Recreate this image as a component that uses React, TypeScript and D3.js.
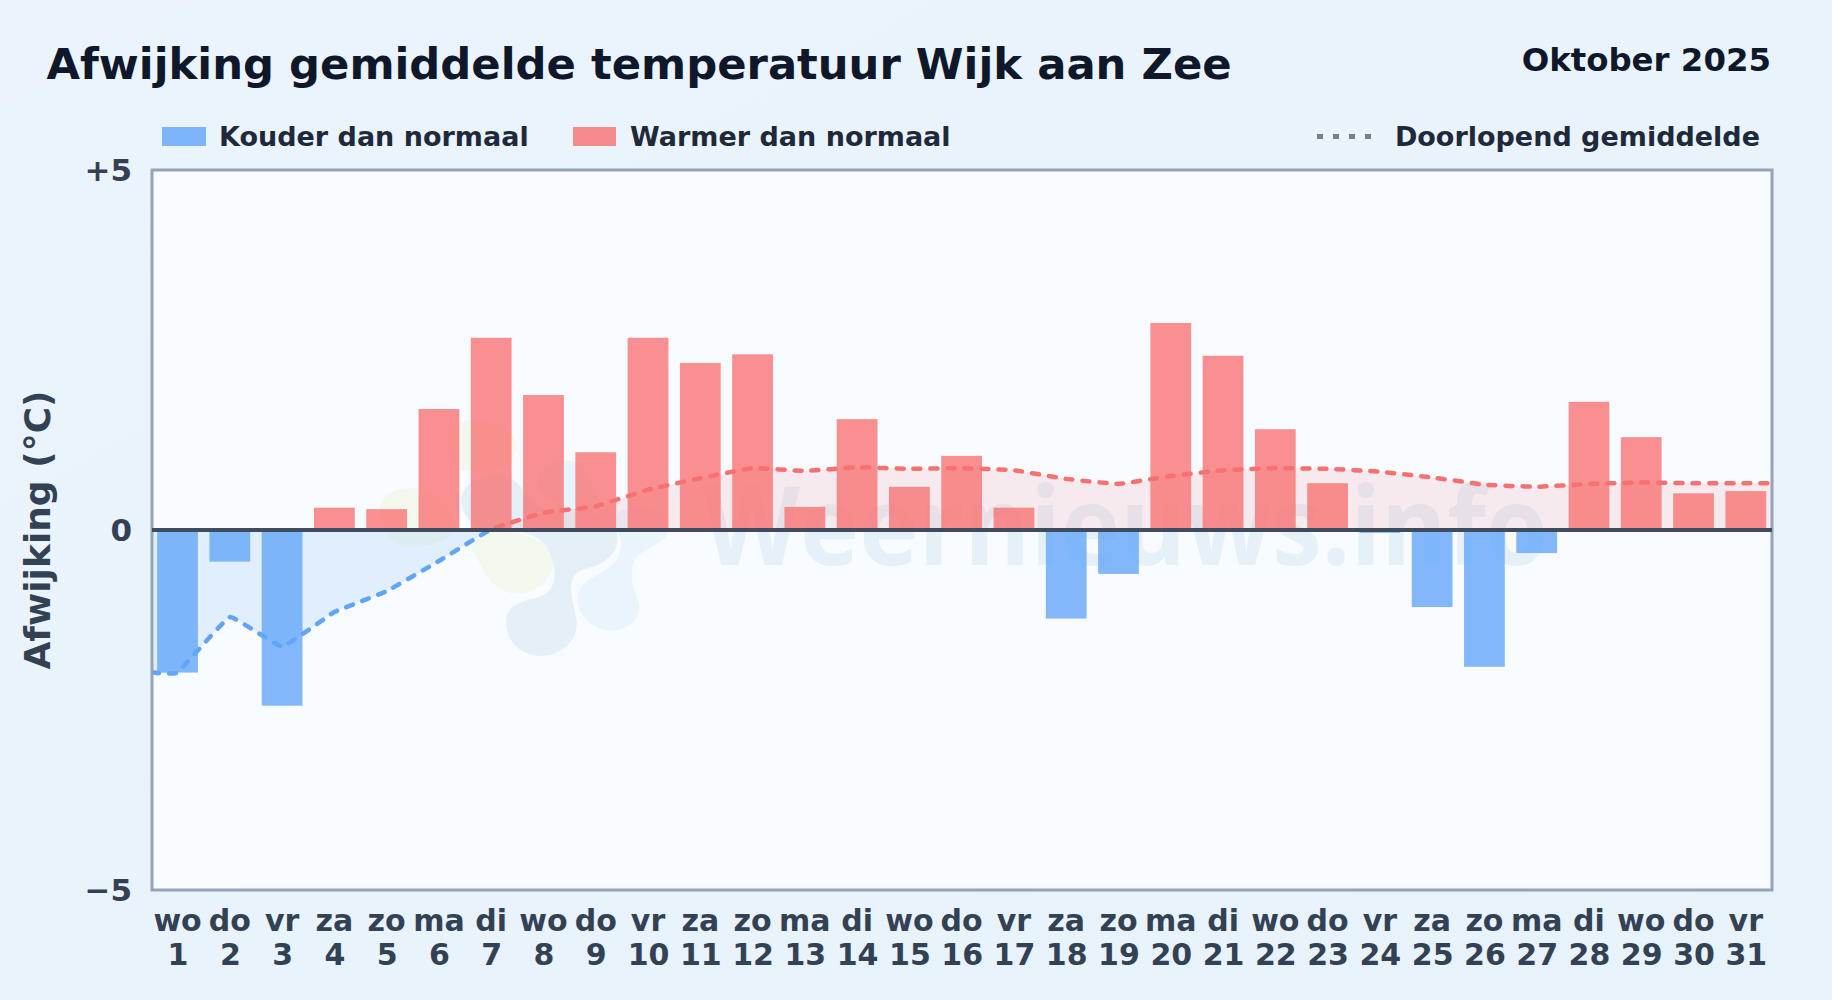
import React from "react";
import * as d3 from "d3";

const title = "Afwijking gemiddelde temperatuur Wijk aan Zee";
const period = "Oktober 2025";
const yAxisTitle = "Afwijking (°C)";
const legendCold = "Kouder dan normaal";
const legendWarm = "Warmer dan normaal";
const legendLine = "Doorlopend gemiddelde";
const weekdays = ["wo","do","vr","za","zo","ma","di","wo","do","vr","za","zo","ma","di","wo","do","vr","za","zo","ma","di","wo","do","vr","za","zo","ma","di","wo","do","vr"];
const days = [1,2,3,4,5,6,7,8,9,10,11,12,13,14,15,16,17,18,19,20,21,22,23,24,25,26,27,28,29,30,31];
const anomaly = [-1.98,-0.44,-2.44,0.31,0.29,1.68,2.67,1.875,1.08,2.67,2.32,2.44,0.32,1.54,0.6,1.03,0.31,-1.23,-0.61,2.875,2.42,1.4,0.65,-0.04,-1.07,-1.9,-0.32,1.78,1.29,0.51,0.54];
const runningMean = [-1.98,-1.21,-1.62,-1.14,-0.85,-0.43,0.01,0.24,0.33,0.56,0.72,0.86,0.82,0.87,0.85,0.86,0.83,0.71,0.64,0.75,0.83,0.86,0.85,0.81,0.73,0.63,0.6,0.64,0.66,0.65,0.65];
const yTicks = [5, 0, -5];
const yTickLabels = ["+5", "0", "−5"];

const W = 1832, H = 1000;
const L = 152, R = 1772, T = 170, B = 890;
const FONT = "'DejaVu Sans', sans-serif";
const COLD = "#60a5fa", WARM = "#f87171";
const AXIS_TEXT = "#334155", INK = "#0f172a", LEGEND_INK = "#1e293b";

export default function App() {
  const x = d3.scaleBand<number>().domain(days).range([L, R]).paddingInner(0.22).paddingOuter(0.105).align(0.47);
  const y = d3.scaleLinear().domain([-5, 5]).range([B, T]);
  const cx = (d: number) => (x(d) as number) + x.bandwidth() / 2;
  const pts: [number, number][] = [
    [L, y(runningMean[0])],
    ...days.map((d, i) => [cx(d), y(runningMean[i])] as [number, number]),
    [R, y(runningMean[runningMean.length - 1])],
  ];
  const curve = d3.curveCardinal.tension(0.75);
  const line = d3.line().curve(curve)(pts) as string;
  const area = d3.area().curve(curve).y0(y(0))(pts) as string;
  const y0 = y(0);

  return (
    <svg width={W} height={H} viewBox={`0 0 ${W} ${H}`} style={{ position: "fixed", left: 0, top: 0 }} fontFamily={FONT} fontWeight={700}>
      <defs>
        <linearGradient id="pg" x1="0" y1="0" x2="1" y2="1">
          <stop offset="0" stopColor="#ebf4fc" />
          <stop offset="1" stopColor="#e8f2fb" />
        </linearGradient>
        <clipPath id="above"><rect x={L} y={T} width={R - L} height={y0 - T} /></clipPath>
        <clipPath id="below"><rect x={L} y={y0} width={R - L} height={B - y0} /></clipPath>
      </defs>
      <rect width={W} height={H} fill="url(#pg)" />
      <text x={46.5} y={79} fontSize={43.3} fill={INK}>{title}</text>
      <text x={1771} y={70.5} fontSize={32.4} fill={INK} textAnchor="end">{period}</text>

      <rect x={162} y={127} width={44} height={19} fill={COLD} opacity={0.8} />
      <text x={219} y={146} fontSize={27} fill={LEGEND_INK}>{legendCold}</text>
      <rect x={573} y={127} width={43} height={19} fill={WARM} opacity={0.8} />
      <text x={630} y={146} fontSize={27} fill={LEGEND_INK}>{legendWarm}</text>
      <line x1={1317} x2={1374} y1={136.5} y2={136.5} stroke="#64748b" strokeWidth={5} strokeDasharray="6 10" opacity={0.9} />
      <text x={1760} y={146} fontSize={27} fill={LEGEND_INK} textAnchor="end">{legendLine}</text>

      <rect x={L} y={T} width={R - L} height={B - T} fill="#f8fbff" />

      <g transform="translate(360,400) scale(0.3333)">
        <path fill="#f3f8ee" d="M60,330 C60,280 120,260 170,265 C230,270 280,320 280,380 C280,420 200,445 140,440 C90,430 60,380 60,330 Z" />
        <path fill="#f3f8ee" d="M330,420 C380,380 520,390 570,450 C600,500 560,570 480,580 C420,585 380,540 360,490 C345,460 330,450 330,420 Z" />
        <path fill="#f3f8ee" d="M270,90 C300,40 420,60 460,110 C490,160 440,200 400,210 L290,210 C270,180 255,130 270,90 Z" />
        <path fill="#e5eff8" d="M305,300 C305,245 380,215 440,228 C480,240 500,300 560,330 C620,300 720,310 765,380 C790,440 750,490 680,505 C620,520 630,570 645,640 C670,720 600,770 540,768 C470,765 430,710 440,650 C450,610 500,600 540,590 C600,570 590,490 560,440 C520,390 460,390 400,390 C340,385 305,350 305,300 Z" />
        <path fill="#e9f4fd" d="M530,240 C540,190 620,160 670,200 C710,250 700,320 770,340 C850,300 930,330 925,390 C920,430 860,440 830,470 C810,500 810,540 830,590 C860,650 800,700 740,690 C680,680 645,630 655,580 C670,530 730,530 770,480 C800,430 780,380 720,350 C650,320 540,320 530,240 Z" />
      </g>
      <text x={703} y={565} fontFamily="'Open Sans', sans-serif" fontWeight={700} fontSize={110} fill="#e5f0f9" textLength={845} lengthAdjust="spacingAndGlyphs">Weernieuws.info</text>

      <path d={area} fill={WARM} opacity={0.12} clipPath="url(#above)" />
      <path d={area} fill={COLD} opacity={0.15} clipPath="url(#below)" />

      {anomaly.map((v, i) => (
        <rect key={days[i]} x={x(days[i])} width={x.bandwidth()} y={y(Math.max(v, 0))} height={Math.abs(y(v) - y0)} fill={v < 0 ? COLD : WARM} opacity={0.78} />
      ))}

      <path d={line} fill="none" stroke={WARM} strokeWidth={4.5} strokeDasharray="7 10" strokeLinecap="round" clipPath="url(#above)" />
      <path d={line} fill="none" stroke={COLD} strokeWidth={4.5} strokeDasharray="7 10" strokeLinecap="round" clipPath="url(#below)" />

      <rect x={L} y={T} width={R - L} height={B - T} fill="none" stroke="#94a3b8" strokeWidth={3} />
      <line x1={L} x2={R} y1={y0} y2={y0} stroke="#3f4c60" strokeWidth={4} />

      {yTicks.map((t, i) => (
        <text key={t} x={132} y={y(t) + 11} fontSize={31} fill={AXIS_TEXT} textAnchor="end">{yTickLabels[i]}</text>
      ))}
      {days.map((d, i) => (
        <g key={d} fontSize={30} fill={AXIS_TEXT} textAnchor="middle">
          <text x={cx(d)} y={931}>{weekdays[i]}</text>
          <text x={cx(d) + 0.5} y={965}>{d}</text>
        </g>
      ))}
      <text transform={`translate(50,530) rotate(-90)`} fontSize={36} fill={AXIS_TEXT} textAnchor="middle">{yAxisTitle}</text>
    </svg>
  );
}
